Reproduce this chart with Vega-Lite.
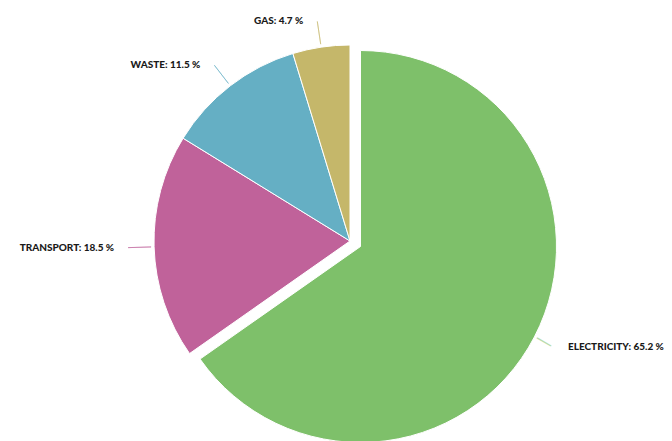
{
  "$schema": "https://vega.github.io/schema/vega-lite/v6.json",
  "width": 644,
  "height": 400,
  "autosize": "none",
  "padding": {"left": 28, "top": 41, "right": 0, "bottom": 0},
  "background": "white",
  "view": {"stroke": null},
  "data": {
    "values": [
      {"category": "ELECTRICITY", "value": 65.2, "order": 1, "label": "ELECTRICITY: 65.2 %"},
      {"category": "TRANSPORT", "value": 18.5, "order": 2, "label": "TRANSPORT: 18.5 %"},
      {"category": "WASTE", "value": 11.5, "order": 3, "label": "WASTE: 11.5 %"},
      {"category": "GAS", "value": 4.7, "order": 4, "label": "GAS: 4.7 %"}
    ]
  },
  "encoding": {
    "theta": {"field": "value", "type": "quantitative", "stack": true},
    "order": {"field": "order", "type": "quantitative"},
    "color": {
      "field": "category",
      "type": "nominal",
      "scale": {
        "domain": ["ELECTRICITY", "TRANSPORT", "WASTE", "GAS"],
        "range": ["#7ec06a", "#c0629a", "#65afc4", "#c5b76a"]
      },
      "legend": null
    }
  },
  "layer": [
    {
      "mark": {"type": "arc", "outerRadius": 196, "stroke": "white", "strokeWidth": 1},
      "encoding": {
        "opacity": {"condition": {"test": "datum.category == 'ELECTRICITY'", "value": 0}, "value": 1}
      }
    },
    {
      "mark": {"type": "arc", "outerRadius": 196, "xOffset": 10.5, "yOffset": 5.5, "stroke": "white", "strokeWidth": 1},
      "encoding": {
        "opacity": {"condition": {"test": "datum.category == 'ELECTRICITY'", "value": 1}, "value": 0}
      }
    },
    {
      "mark": {"type": "arc", "innerRadius": 199, "outerRadius": 222, "padAngle": 2, "filled": false, "strokeWidth": 1},
      "encoding": {
        "opacity": {"condition": {"test": "datum.category == 'ELECTRICITY'", "value": 0}, "value": 0.55}
      }
    },
    {
      "mark": {"type": "text", "radius": 222, "align": "right", "baseline": "middle", "dx": -14, "font": "Lato", "fontWeight": 900, "fontSize": 10},
      "encoding": {
        "text": {"field": "label"},
        "color": {"value": "#1a1a1a"},
        "opacity": {"condition": {"test": "datum.category == 'ELECTRICITY'", "value": 0}, "value": 1}
      }
    },
    {
      "mark": {"type": "text", "radius": 222, "align": "left", "baseline": "middle", "dx": 21, "dy": 4, "font": "Lato", "fontWeight": 900, "fontSize": 10},
      "encoding": {
        "text": {"field": "label"},
        "color": {"value": "#1a1a1a"},
        "opacity": {"condition": {"test": "datum.category == 'ELECTRICITY'", "value": 1}, "value": 0}
      }
    },
    {
      "mark": {"type": "text", "radius": 207, "xOffset": 10.5, "yOffset": 5.5, "angle": 30, "align": "center", "baseline": "middle", "font": "DejaVu Sans", "fontSize": 18, "text": "—"},
      "encoding": {
        "color": {"value": "#b9dcae"},
        "opacity": {"condition": {"test": "datum.category == 'ELECTRICITY'", "value": 1}, "value": 0}
      }
    }
  ]
}
